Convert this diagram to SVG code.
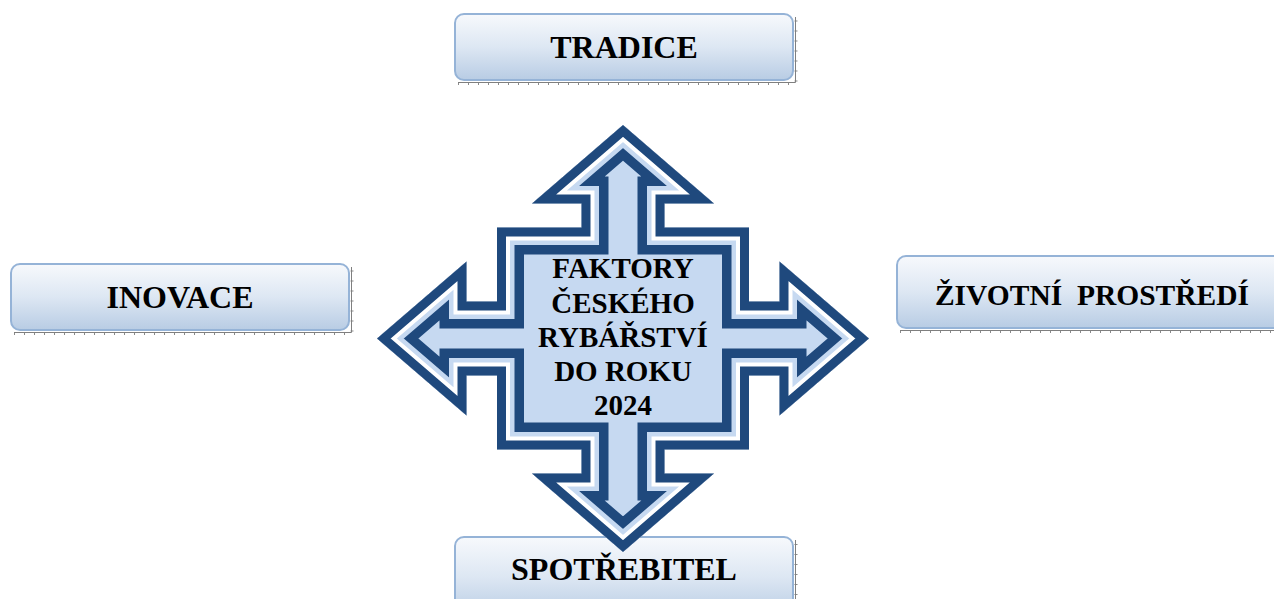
<svg xmlns="http://www.w3.org/2000/svg" width="1274" height="599" viewBox="0 0 1274 599">
<defs>
<linearGradient id="boxg" x1="0" y1="0" x2="0" y2="1">
<stop offset="0" stop-color="#F7F9FC"/>
<stop offset="0.5" stop-color="#DDE7F3"/>
<stop offset="1" stop-color="#B8CCE4"/>
</linearGradient>
<path id="quad" d="M623,125 L714,203.5 L664.5,203.5 L664.5,227.5 L749,227.5 L749,301.5 L779.5,301.5 L779.5,261.5 L869,338.5 L779.5,415.5 L779.5,375.5 L749,375.5 L749,449.5 L664.5,449.5 L664.5,473.5 L714,473.5 L623,552 L532,473.5 L581.5,473.5 L581.5,449.5 L497,449.5 L497,375.5 L466.5,375.5 L466.5,415.5 L377,338.5 L466.5,261.5 L466.5,301.5 L497,301.5 L497,227.5 L581.5,227.5 L581.5,203.5 L532,203.5 Z"/>
<clipPath id="quadclip"><use href="#quad"/></clipPath>
</defs>
<style>
.box{fill:url(#boxg);stroke:#95B3D7;stroke-width:2}
.sh{fill:none;stroke:#7F7F7F;stroke-width:1}
.tick{fill:none;stroke:#8A8A8A;stroke-width:3;stroke-dasharray:1 9}
.lbl{font-family:"Liberation Serif","Times New Roman",serif;font-weight:bold;font-size:32px;fill:#000;text-anchor:middle}
.ctr{font-family:"Liberation Serif","Times New Roman",serif;font-weight:bold;font-size:29px;fill:#000;text-anchor:middle}
.band{fill:none;stroke-linejoin:miter;stroke-miterlimit:10}
</style>

<g id="tradice">
<path class="tick" d="M458,83.5 H796 V18"/>
<path class="sh" d="M458,82.5 H795.5 V17"/>
<rect class="box" x="455" y="14" width="338" height="66" rx="9"/>
<text class="lbl" x="624" y="58">TRADICE</text>
</g>

<g id="inovace">
<path class="tick" d="M14,333.5 H352 V268"/>
<path class="sh" d="M14,332.5 H351.5 V267"/>
<rect class="box" x="11" y="264" width="338" height="66" rx="9"/>
<text class="lbl" x="180" y="308">INOVACE</text>
</g>

<g id="zivotni">
<path class="tick" d="M900,331.5 H1280"/>
<path class="sh" d="M900,330.5 H1280"/>
<rect class="box" x="897" y="256" width="392" height="72" rx="9"/>
<text class="lbl" x="1092" y="305" style="font-size:29.5px" xml:space="preserve">ŽIVOTNÍ  PROSTŘEDÍ</text>
</g>

<g id="spotrebitel">
<path class="tick" d="M796,605 V541"/>
<path class="sh" d="M795.5,605 V540"/>
<rect class="box" x="455" y="537" width="338" height="80" rx="9"/>
<text class="lbl" x="624" y="580">SPOTŘEBITEL</text>
</g>

<g id="faktory">
<g clip-path="url(#quadclip)">
<use href="#quad" fill="#C6D9F1"/>
<use href="#quad" class="band" stroke="#1F497D" stroke-width="54"/>
<use href="#quad" class="band" stroke="#C6D9F1" stroke-width="35"/>
<use href="#quad" class="band" stroke="#FFFFFF" stroke-width="26"/>
<use href="#quad" class="band" stroke="#1F497D" stroke-width="18"/>
</g>
<text class="ctr" x="623" y="278">FAKTORY</text>
<text class="ctr" x="623" y="312.5">ČESKÉHO</text>
<text class="ctr" x="623" y="346.5">RYBÁŘSTVÍ</text>
<text class="ctr" x="623" y="380.5">DO ROKU</text>
<text class="ctr" x="623" y="415">2024</text>
</g>

<g id="connectors"></g>
</svg>
